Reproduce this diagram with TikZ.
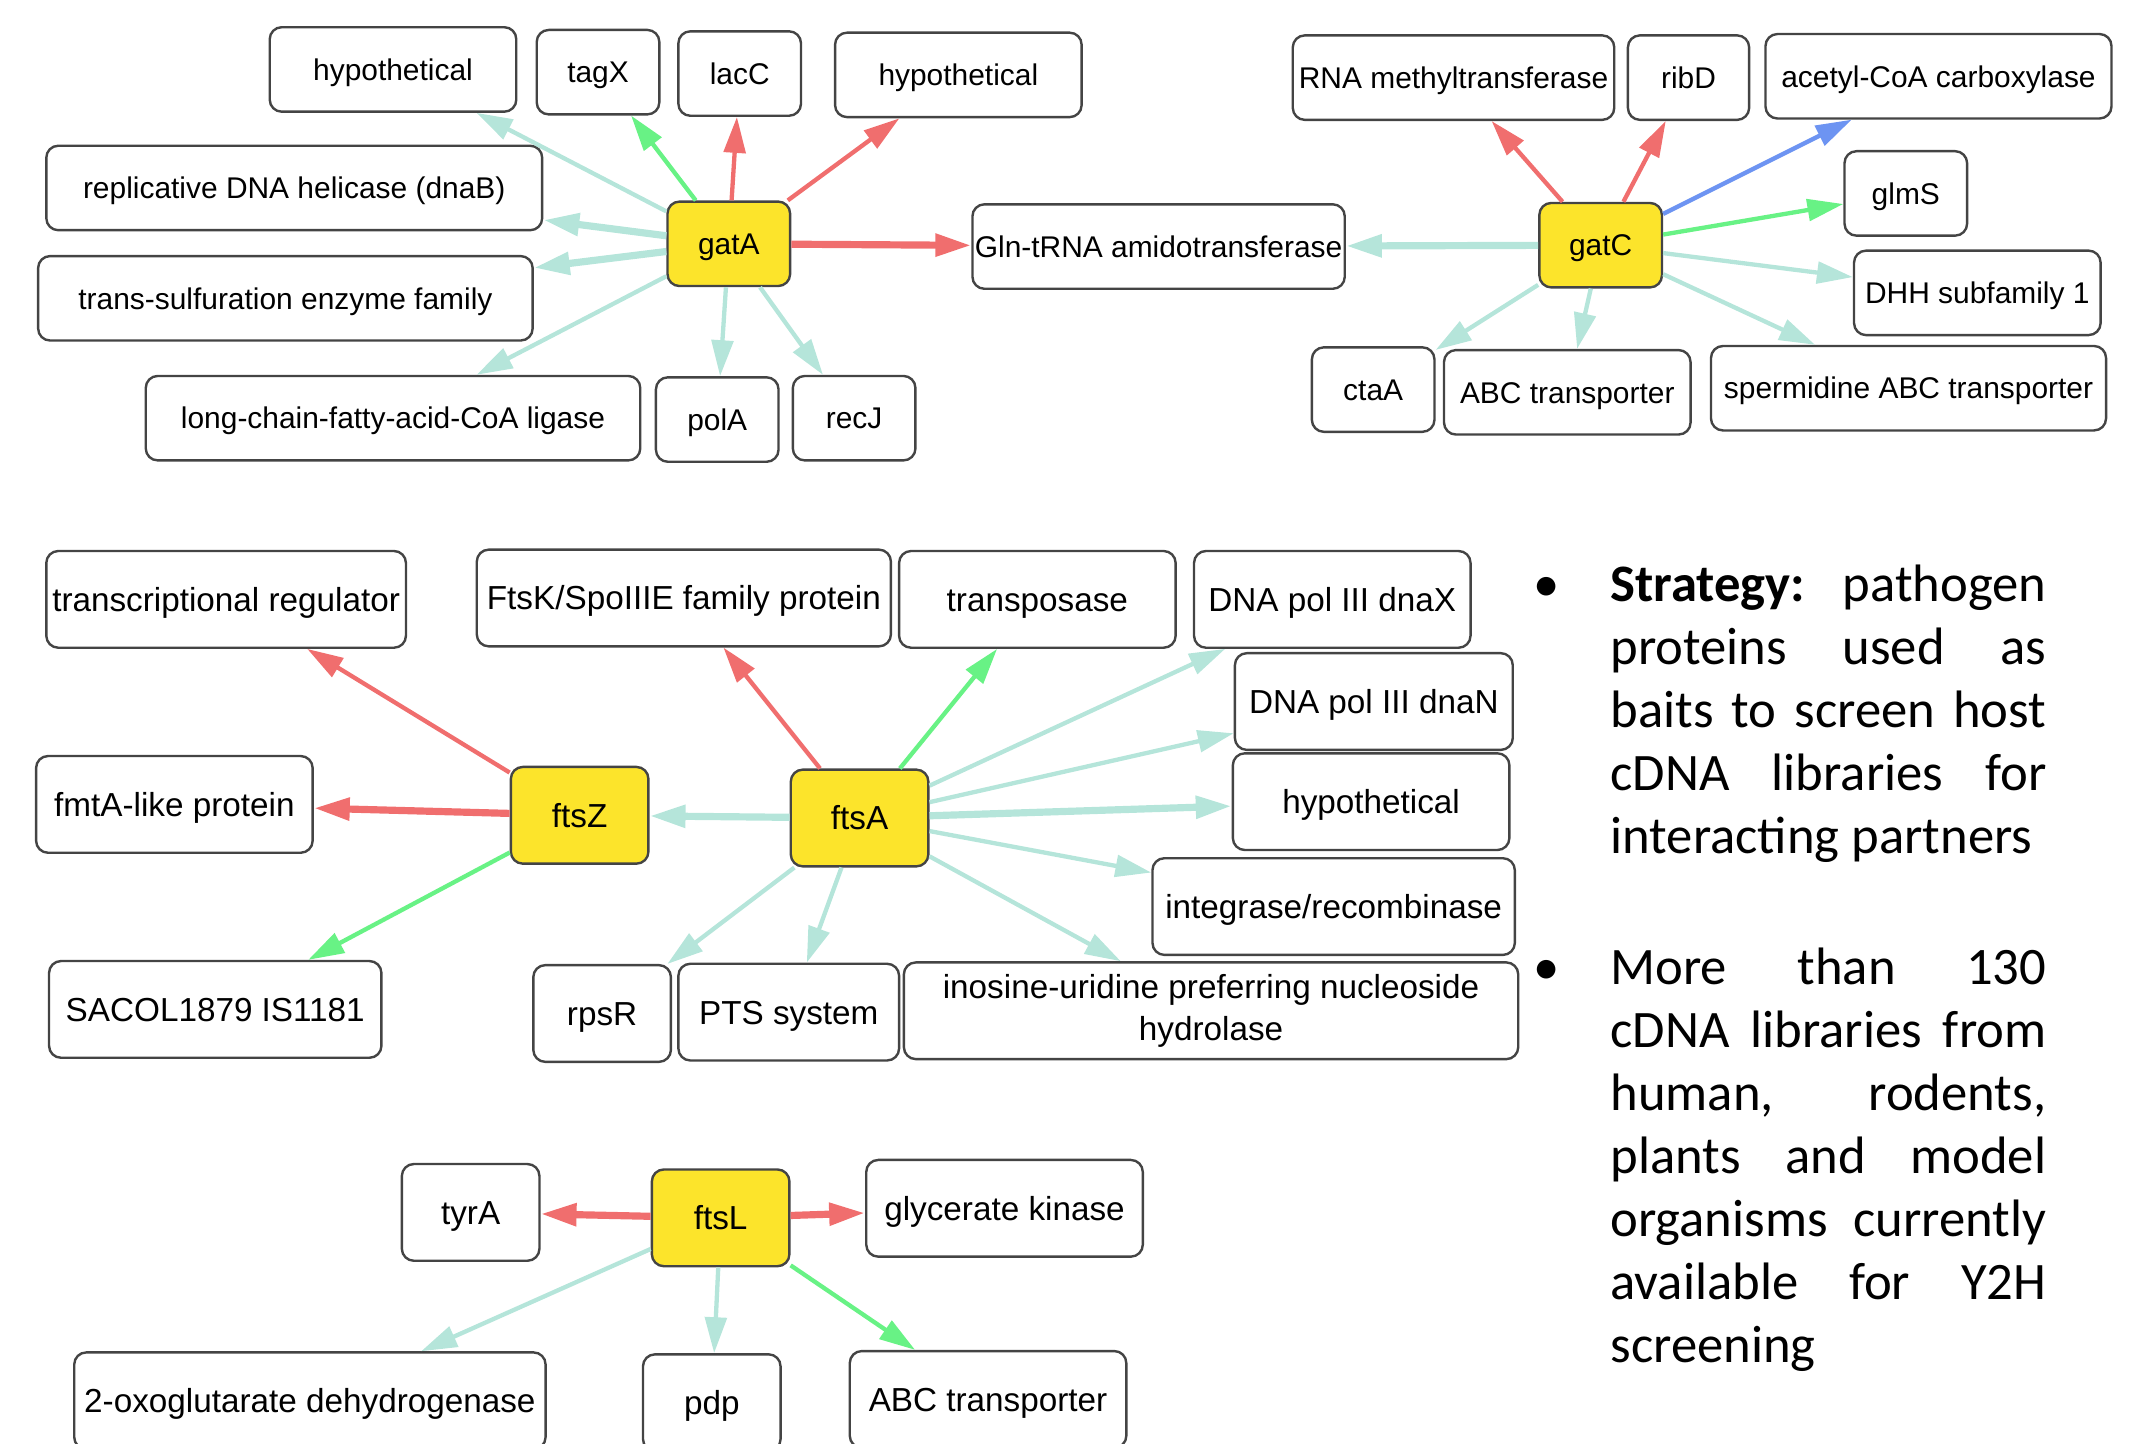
\documentclass[tikz,border=0pt]{standalone}
\usepackage{fontspec}
\setmainfont{Liberation Sans}
\newfontfamily\calibri{Carlito}
\definecolor{hubfill}{HTML}{FCE42B}
\definecolor{mint}{HTML}{B5E5DA}
\definecolor{coral}{HTML}{F06E6E}
\definecolor{lime}{HTML}{68F285}
\definecolor{cobalt}{HTML}{6D94F2}
\definecolor{rim}{HTML}{444444}
\usetikzlibrary{arrows.meta}
\tolerance=10000
\tikzset{
  prot/.style={
    draw=rim, fill=white, rounded corners=2.5pt, line width=0.5pt,
    minimum height=0.62cm, inner xsep=0.5pt, inner ysep=1pt,
    text height=4.5pt, text depth=0pt,
    font=\fontsize{6.25}{7.5}\selectfont, align=center
  },
  bigprot/.style={prot, minimum height=0.71cm, text height=5pt,
    font=\fontsize{6.95}{8.8}\selectfont},
  hub/.style={prot, fill=hubfill},
  bighub/.style={bigprot, fill=hubfill},
  arr/.style={-{Triangle[length=7.5pt,width=4.5pt]}, line width=0.9pt, draw=#1},
  arr/.default=mint,
  tarr/.style={arr=#1, line width=1.5pt},
  tarr/.default=mint,
  notes/.style={
    text width=3.20cm, inner sep=0pt, align=justify,
    font=\calibri\fontsize{11}{13.15}\selectfont
  },
  dot/.style={inner sep=0pt, font=\calibri\fontsize{11}{13.15}\selectfont},
}
\begin{document}
\begin{tikzpicture}
  \useasboundingbox (0,0) rectangle (15.68,10.60);

  % gatA cluster
  \node[hub, minimum width=0.90cm] (gatA) at (5.35,8.81) {gatA};
  \node[prot, minimum width=1.81cm] (hypA) at (2.885,10.09) {hypothetical};
  \node[prot, minimum width=0.90cm] (tagX) at (4.39,10.07) {tagX};
  \node[prot, minimum width=0.90cm] (lacC) at (5.43,10.06) {lacC};
  \node[prot, minimum width=1.81cm] (hypB) at (7.035,10.05) {hypothetical};
  \node[prot, minimum width=3.64cm] (dnaB) at (2.16,9.22) {replicative DNA helicase (dnaB)};
  \node[prot, minimum width=3.63cm] (trsf) at (2.095,8.41) {trans-sulfuration enzyme family};
  \node[prot, minimum width=3.63cm] (lcfa) at (2.885,7.53) {long-chain-fatty-acid-CoA ligase};
  \node[prot, minimum width=0.90cm] (polA) at (5.265,7.52) {polA};
  \node[prot, minimum width=0.90cm] (recJ) at (6.27,7.53) {recJ};
  \node[prot, minimum width=2.73cm] (gln) at (8.505,8.79) {Gln-tRNA amidotransferase};

  \draw[arr=mint] (gatA) -- (hypA);
  \draw[arr=lime] (gatA) -- (tagX);
  \draw[arr=coral] (gatA) -- (lacC);
  \draw[arr=coral] (gatA) -- (hypB);
  \draw[tarr=mint] (gatA) -- (dnaB);
  \draw[tarr=mint] (gatA) -- (trsf);
  \draw[arr=mint] (gatA) -- (lcfa);
  \draw[arr=mint] (gatA) -- (polA);
  \draw[arr=mint] (gatA) -- (recJ);
  \draw[tarr=coral] (gatA) -- (gln);

  % gatC cluster
  \node[hub, minimum width=0.90cm] (gatC) at (11.75,8.80) {gatC};
  \node[prot, minimum width=2.36cm] (rnaM) at (10.67,10.03) {RNA methyltransferase};
  \node[prot, minimum width=0.89cm] (ribD) at (12.395,10.03) {ribD};
  \node[prot, minimum width=2.54cm] (acc) at (14.23,10.04) {acetyl-CoA carboxylase};
  \node[prot, minimum width=0.90cm] (glmS) at (13.99,9.18) {glmS};
  \node[prot, minimum width=1.81cm] (dhh) at (14.515,8.45) {DHH subfamily 1};
  \node[prot, minimum width=2.90cm] (spd) at (14.01,7.75) {spermidine ABC transporter};
  \node[prot, minimum width=1.81cm] (abcC) at (11.505,7.72) {ABC transporter};
  \node[prot, minimum width=0.90cm] (ctaA) at (10.08,7.74) {ctaA};

  \draw[tarr=mint] (gatC) -- (gln);
  \draw[arr=coral] (gatC) -- (rnaM);
  \draw[arr=coral] (gatC) -- (ribD);
  \draw[arr=cobalt] (gatC) -- (acc);
  \draw[arr=lime] (gatC) -- (glmS);
  \draw[arr=mint] (gatC) -- (dhh);
  \draw[arr=mint] (gatC) -- (spd);
  \draw[arr=mint] (gatC) -- (abcC);
  \draw[arr=mint] (gatC) -- (ctaA);

  % ftsZ / ftsA cluster
  \node[bighub, minimum width=1.01cm] (ftsZ) at (4.255,4.615) {ftsZ};
  \node[bighub, minimum width=1.01cm] (ftsA) at (6.31,4.595) {ftsA};
  \node[bigprot, minimum width=2.64cm] (treg) at (1.66,6.20) {transcriptional regulator};
  \node[bigprot, minimum width=2.03cm] (fmtA) at (1.28,4.695) {fmtA-like protein};
  \node[bigprot, minimum width=2.44cm] (sacol) at (1.58,3.19) {SACOL1879 IS1181};
  \node[bigprot, minimum width=3.04cm] (ftsK) at (5.02,6.21) {FtsK/SpoIIIE family protein};
  \node[bigprot, minimum width=2.03cm] (tnp) at (7.615,6.20) {transposase};
  \node[bigprot, minimum width=2.03cm] (dnaX) at (9.78,6.20) {DNA pol III dnaX};
  \node[bigprot, minimum width=2.04cm] (dnaN) at (10.085,5.45) {DNA pol III dnaN};
  \node[bigprot, minimum width=2.03cm] (hypC) at (10.065,4.715) {hypothetical};
  \node[bigprot, minimum width=2.66cm] (intg) at (9.79,3.945) {integrase/recombinase};
  \node[bigprot, minimum width=4.51cm, text height={}, text depth={}] (iunh) at (8.89,3.18)
    {inosine-uridine preferring nucleoside\\hydrolase};
  \node[bigprot, minimum width=1.62cm] (pts) at (5.79,3.17) {PTS system};
  \node[bigprot, minimum width=1.01cm] (rpsR) at (4.42,3.16) {rpsR};

  \draw[arr=coral] (ftsZ) -- (treg);
  \draw[tarr=coral] (ftsZ) -- (fmtA);
  \draw[arr=lime] (ftsZ) -- (sacol);
  \draw[tarr=mint] (ftsA) -- (ftsZ);
  \draw[arr=coral] (ftsA) -- (ftsK);
  \draw[arr=lime] (ftsA) -- (tnp);
  \draw[arr=mint] (ftsA) -- (dnaX);
  \draw[arr=mint] (ftsA) -- (dnaN);
  \draw[tarr=mint] (ftsA) -- (hypC);
  \draw[arr=mint] (ftsA) -- (intg);
  \draw[arr=mint] (ftsA) -- (iunh);
  \draw[arr=mint] (ftsA) -- (pts);
  \draw[arr=mint] (ftsA) -- (rpsR);

  % ftsL cluster
  \node[bighub, minimum width=1.01cm] (ftsL) at (5.29,1.66) {ftsL};
  \node[bigprot, minimum width=1.01cm] (tyrA) at (3.455,1.70) {tyrA};
  \node[bigprot, minimum width=2.03cm] (glyK) at (7.374,1.73) {glycerate kinase};
  \node[bigprot, minimum width=3.46cm] (oxo) at (2.275,0.317) {2-oxoglutarate dehydrogenase};
  \node[bigprot, minimum width=1.01cm] (pdp) at (5.225,0.303) {pdp};
  \node[bigprot, minimum width=2.03cm] (abcL) at (7.253,0.327) {ABC transporter};

  \draw[tarr=coral] (ftsL) -- (tyrA);
  \draw[tarr=coral] (ftsL) -- (glyK);
  \draw[arr=mint] (ftsL) -- (oxo);
  \draw[arr=mint] (ftsL) -- (pdp);
  \draw[arr=lime] (ftsL) -- (abcL);

  % notes
  \node[dot, anchor=base] (bul1) at (11.355,6.185) {•};
  \node[notes, anchor=base west] (st1) at (11.815,6.185)
    {\textbf{Strategy:} pathogen\linebreak proteins used as\linebreak
     baits to screen host\linebreak cDNA libraries for\linebreak interacting partners};
  \node[dot, anchor=base] (bul2) at (11.355,3.372) {•};
  \node[notes, anchor=base west] (st2) at (11.815,3.372)
    {More than 130\linebreak cDNA libraries from\linebreak human, rodents,\linebreak
     plants and model\linebreak organisms currently\linebreak available for Y2H\linebreak
     screening};
\end{tikzpicture}
\end{document}
